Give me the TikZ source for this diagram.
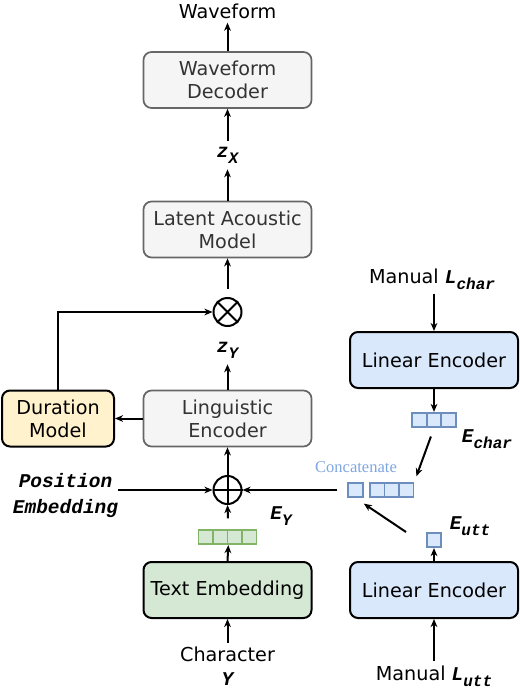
\documentclass[tikz,border=0pt]{standalone}
\usepackage{fontspec}
\setmainfont{DejaVu Sans}
\newfontfamily\codefont{Liberation Mono}
\newfontfamily\timesfont{Liberation Serif}
\usetikzlibrary{arrows.meta}

\definecolor{greyfill}{HTML}{F5F5F5}
\definecolor{greyline}{HTML}{666666}
\definecolor{greytext}{HTML}{333333}
\definecolor{bluefill}{HTML}{DAE8FC}
\definecolor{blueline}{HTML}{6C8EBF}
\definecolor{greenfill}{HTML}{D5E8D4}
\definecolor{greenline}{HTML}{82B366}
\definecolor{yellowfill}{HTML}{FFF2CC}
\definecolor{concatblue}{HTML}{7EA6E0}

% bold italic typewriter symbol with a lowered index
\newcommand{\vlabel}[2]{{\codefont\fontsize{14.6}{19.5}\bfseries\itshape\selectfont #1\raisebox{-0.3em}{\fontsize{12}{12}\selectfont #2}}}

\begin{document}
\begin{tikzpicture}[x=0.75pt, y=-0.75pt,
    box/.style={rounded corners=6pt, minimum width=126pt, minimum height=42pt,
        align=center, draw=black, line width=1.5pt, font=\fontsize{14.4}{17.3}\selectfont},
    greybox/.style={box, fill=greyfill, draw=greyline, text=greytext, line width=1.3pt},
    bluebox/.style={box, fill=bluefill},
    greenbox/.style={box, fill=greenfill},
    yellowbox/.style={box, fill=yellowfill},
    lbl/.style={inner sep=3pt, align=center, font=\fontsize{14.4}{17.3}\selectfont},
    vlbl/.style={inner sep=4.5pt},
    gcell/.style={draw=greenline, fill=greenfill, line width=1.2pt, minimum size=10.9pt, inner sep=0pt},
    bcell/.style={draw=blueline, fill=bluefill, line width=1.2pt, minimum size=10.9pt, inner sep=0pt},
    opcircle/.style={circle, draw, line width=1.5pt, minimum size=21pt, inner sep=0pt},
    arr/.style={-{Stealth[length=6pt,width=5pt,inset=1.8pt]}, line width=1.5pt}]

    \useasboundingbox (0,0) rectangle (520,692);

    % Main column
    \node[lbl] (wave) at (227.5,11) {Waveform};
    \node[greybox] (wavedec) at (227.5,80) {Waveform\\Decoder};
    \node[vlbl] (zx) at (227.5,155) {\vlabel{z}{X}};
    \node[greybox] (latent) at (227.5,229.5) {Latent Acoustic\\Model};
    \node[opcircle] (mult) at (227.5,312) {};
    \node[vlbl] (zy) at (227.5,350) {\vlabel{z}{Y}};
    \node[greybox] (ling) at (227.5,418.5) {Linguistic\\Encoder};
    \node[yellowbox, minimum width=84pt] (dur) at (58,418.5) {Duration\\Model};
    \node[opcircle] (add) at (227.5,490) {};
    \node[inner sep=0pt, align=center, font={\codefont\fontsize{14.6}{19.5}\bfseries\itshape\selectfont}]
        (posemb) at (65.5,496) {Position\\Embedding};
    \foreach \i in {0,...,3}
        \node[gcell] (ey\i) at (205.75+14.5*\i,537) {};
    \node (eylbl) at (281,516) {\vlabel{E}{Y}};
    \node[greenbox] (textemb) at (227.5,590) {Text Embedding};
    \node[lbl, font=\fontsize{14.4}{18}\selectfont] (chary) at (227.5,669) {Character\\\vlabel{Y}{}};

    % Signs in the circles
    \draw[line width=1.5pt] (mult.north east) -- (mult.south west)
        (mult.north west) -- (mult.south east);
    \draw[line width=1.5pt] (add.north) -- (add.south) (add.west) -- (add.east);

    % Right column
    \node[lbl] (mlchar) at (432,279) {Manual \vlabel{L}{char}};
    \node[bluebox] (lincharenc) at (434,360) {Linear Encoder};
    \foreach \i in {0,1,2}
        \node[bcell] (ech\i) at (419.5+14.5*\i,420) {};
    \node (echarlbl) at (487,439) {\vlabel{E}{char}};
    \node[text=concatblue, font=\timesfont\fontsize{12.4}{14}\selectfont] (concatlbl) at (356,467) {Concatenate};
    \node[bcell] (cs) at (355.5,490) {};
    \foreach \i in {0,1,2}
        \node[bcell] (ct\i) at (377.25+14.5*\i,490) {};
    \node[bcell] (eu) at (434,540) {};
    \node (euttlbl) at (470,526) {\vlabel{E}{utt}};
    \coordinate (uttfrom) at (406,532);
    \node[bluebox] (linuttenc) at (434,590) {Linear Encoder};
    \node[lbl] (mlutt) at (434,676) {Manual \vlabel{L}{utt}};

    % Connectors
    \draw[arr] (wavedec.north) -- (wave.south);
    \draw[arr] (zx.north) -- (wavedec.south);
    \draw[arr] (latent.north) -- (zx.south);
    \draw[arr, shorten <=6pt] (mult.north) -- (latent.south);
    \draw[arr] (ling.north) -- (zy.south);
    \draw[arr] (ling.west) -- (dur.east);
    \draw[arr] (dur.north) |- (mult.west);
    \draw[arr] (add.north) -- (ling.south);
    \draw[arr, shorten <=8pt] (ey1.north east) -- (add.south);
    \draw[arr] (textemb.north) -- (ey1.south east);
    \draw[arr] (chary.north) -- (textemb.south);
    \draw[arr] (posemb.east |- add.west) -- (add.west);
    \draw[arr, shorten <=7.5pt] (cs.west) -- (add.east);
    \draw[arr] (mlchar.south -| lincharenc.north) -- (lincharenc.north);
    \draw[arr] (lincharenc.south) -- (ech1.north);
    \draw[arr, shorten <=6.75pt, shorten >=4.5pt] (ech1.south) -- (ct2.north east);
    \draw[arr, shorten >=7.5pt] (uttfrom) -- (cs.south);
    \draw[arr] (linuttenc.north) -- (eu.south);
    \draw[arr] (mlutt.north -| linuttenc.south) -- (linuttenc.south);
\end{tikzpicture}
\end{document}
